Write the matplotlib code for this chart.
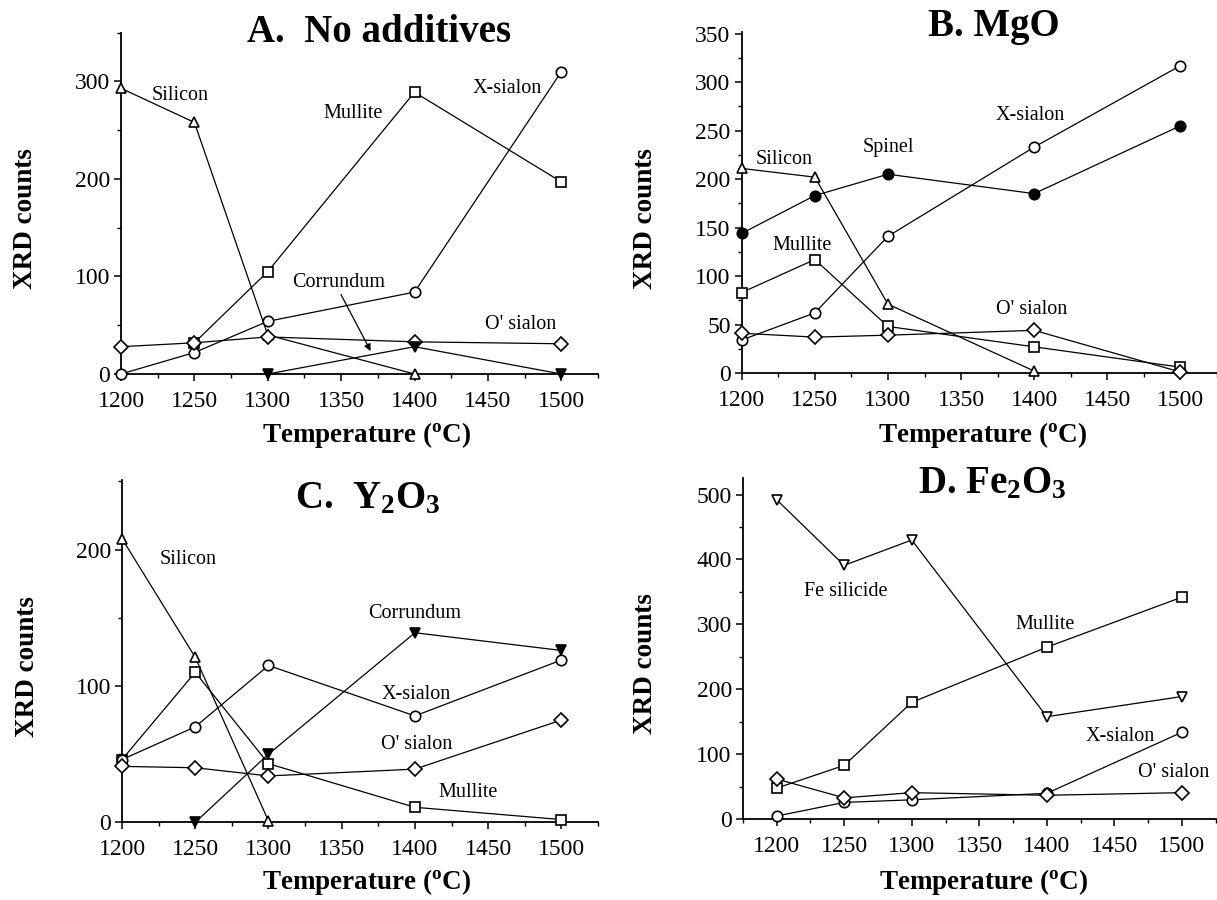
import matplotlib
matplotlib.use('Agg')
import matplotlib.pyplot as plt
from matplotlib.ticker import MultipleLocator

plt.rcParams['font.family'] = ['Liberation Serif', 'DejaVu Serif']
plt.rcParams['mathtext.fontset'] = 'custom'
plt.rcParams['mathtext.rm'] = 'Liberation Serif:bold'
plt.rcParams['mathtext.it'] = 'Liberation Serif:bold'
plt.rcParams['mathtext.bf'] = 'Liberation Serif:bold'

temps = [1200, 1250, 1300, 1400, 1500]

# A. No additives
a_si_t = [1200, 1250, 1300, 1400]
a_si = [293, 258, 40, 0]
a_mul_t = [1250, 1300, 1400, 1500]
a_mul = [32, 105, 289, 197]
a_xs = [0, 22, 54, 84, 310]
a_os = [28, 32, 38, 33, 31]
a_cor_t = [1300, 1400, 1500]
a_cor = [0, 28, 0]

# B. MgO
b_xs = [34, 62, 141, 233, 317]
b_sp = [144, 183, 205, 185, 255]
b_si_t = [1200, 1250, 1300, 1400]
b_si = [211, 202, 71, 2]
b_mul = [83, 117, 48, 27, 6]
b_os = [41, 37, 39, 44, 1]

# C. Y2O3
c_si_t = [1200, 1250, 1300]
c_si = [208, 121, 1]
c_mul = [46, 110, 43, 11, 2]
c_xs = [46, 70, 115, 78, 119]
c_cor_t = [1250, 1300, 1400, 1500]
c_cor = [0, 50, 139, 126]
c_os = [41, 40, 34, 39, 75]

# D. Fe2O3
d_fes = [492, 391, 430, 158, 189]
d_mul = [48, 83, 180, 265, 342]
d_xs = [5, 26, 30, 40, 134]
d_os = [62, 33, 41, 37, 41]

W, H = 1217, 900
fig = plt.figure(figsize=(W / 100, H / 100), dpi=100)


def px_axes(left, right, bottom, top):
    return fig.add_axes([left / W, (H - bottom) / H, (right - left) / W, (bottom - top) / H])


def series(ax, x, y, marker, filled=False):
    ax.plot(x, y, color='black', lw=0.9, marker=marker, ms=7.5,
            mfc='black' if filled else 'white', mec='black', mew=1.2,
            clip_on=False, zorder=3)


def style(ax, xlim, ylim, ymaj, ymin):
    ax.set_xlim(*xlim)
    ax.set_ylim(*ylim)
    ax.xaxis.set_major_locator(MultipleLocator(50))
    ax.xaxis.set_minor_locator(MultipleLocator(25))
    ax.yaxis.set_major_locator(MultipleLocator(ymaj))
    ax.yaxis.set_minor_locator(MultipleLocator(ymin))
    for s in ['top', 'right']:
        ax.spines[s].set_visible(False)
    for s in ['left', 'bottom']:
        ax.spines[s].set_linewidth(1.3)
    ax.tick_params(which='major', direction='out', length=5, width=1.1, labelsize=17)
    ax.tick_params(which='minor', direction='out', length=3, width=1.0)
    ax.tick_params(axis='x', which='major', pad=7)
    ax.tick_params(axis='y', which='major', pad=3)


lab = dict(fontsize=14.5, ha='center', va='center')
big = dict(fontsize=28, fontweight='bold', ha='center', va='center')
axlab = dict(fontsize=19.5, fontweight='bold', ha='center', va='center')

# Panel A
ax = px_axes(121, 598, 374, 32.7)
series(ax, a_si_t, a_si, '^')
series(ax, a_mul_t, a_mul, 's')
series(ax, temps, a_xs, 'o')
series(ax, temps, a_os, 'D')
series(ax, a_cor_t, a_cor, 'v', filled=True)
style(ax, (1200, 1525), (0, 350), 100, 50)
ax.text(1240, 286, 'Silicon', **lab)
ax.text(1358, 267, 'Mullite', **lab)
ax.text(1463, 293, 'X-sialon', **lab)
ax.text(1348, 94, 'Corrundum', **lab)
ax.text(1472, 51, "O' sialon", **lab)
ax.annotate('', xy=(1371, 21), xytext=(1349, 84),
            arrowprops=dict(arrowstyle='-|>', color='black', lw=0.9, mutation_scale=10))
ax.text(1376, 350, 'A.  No additives', **big)

# Panel B
ax = px_axes(741.7, 1217, 373, 31.7)
series(ax, temps, b_xs, 'o')
series(ax, temps, b_sp, 'o', filled=True)
series(ax, b_si_t, b_si, '^')
series(ax, temps, b_mul, 's')
series(ax, temps, b_os, 'D')
style(ax, (1200, 1525), (0, 352), 50, 25)
ax.text(1229, 220, 'Silicon', **lab)
ax.text(1300, 233, 'Spinel', **lab)
ax.text(1397, 266, 'X-sialon', **lab)
ax.text(1241, 132, 'Mullite', **lab)
ax.text(1398, 66, "O' sialon", **lab)
ax.text(0.53, 1.015, 'B. MgO', transform=ax.transAxes, **big)

# Panel C
ax = px_axes(122, 598, 822.3, 480)
series(ax, c_si_t, c_si, '^')
series(ax, temps, c_mul, 's')
series(ax, temps, c_xs, 'o')
series(ax, c_cor_t, c_cor, 'v', filled=True)
series(ax, temps, c_os, 'D')
style(ax, (1200, 1525), (0, 251), 100, 50)
ax.text(1245, 193, 'Silicon', **lab)
ax.text(1400, 153, 'Corrundum', **lab)
ax.text(1401, 94, 'X-sialon', **lab)
ax.text(1401, 57, "O' sialon", **lab)
ax.text(1436, 22, 'Mullite', **lab)
ax.text(1368, 0.944 * 251, r'C.  Y$_2$O$_3$', **big)

# Panel D
ax = px_axes(742.9, 1217, 819.3, 478.3)
series(ax, temps, d_fes, 'v')
series(ax, temps, d_mul, 's')
series(ax, temps, d_xs, 'o')
series(ax, temps, d_os, 'D')
style(ax, (1175, 1526), (0, 525), 100, 50)
ax.text(1251, 351, 'Fe silicide', **lab)
ax.text(1399, 300, 'Mullite', **lab)
ax.text(1454, 128, 'X-sialon', **lab)
ax.text(1494, 72, "O' sialon", **lab)
ax.text(1360, 0.985 * 525, r'D. Fe$_2$O$_3$', **big)

# axis titles
for x, y in [(26, 219), (645, 219), (27, 667), (646, 664)]:
    fig.text(x / W, 1 - y / H, 'XRD counts', rotation=90, **axlab)
for x, y in [(367, 435), (983, 435), (367, 882), (984, 882)]:
    fig.text(x / W, 1 - y / H, r'Temperature ($^{\mathrm{o}}$C)', **axlab)

fig.savefig('out.png', dpi=100)
